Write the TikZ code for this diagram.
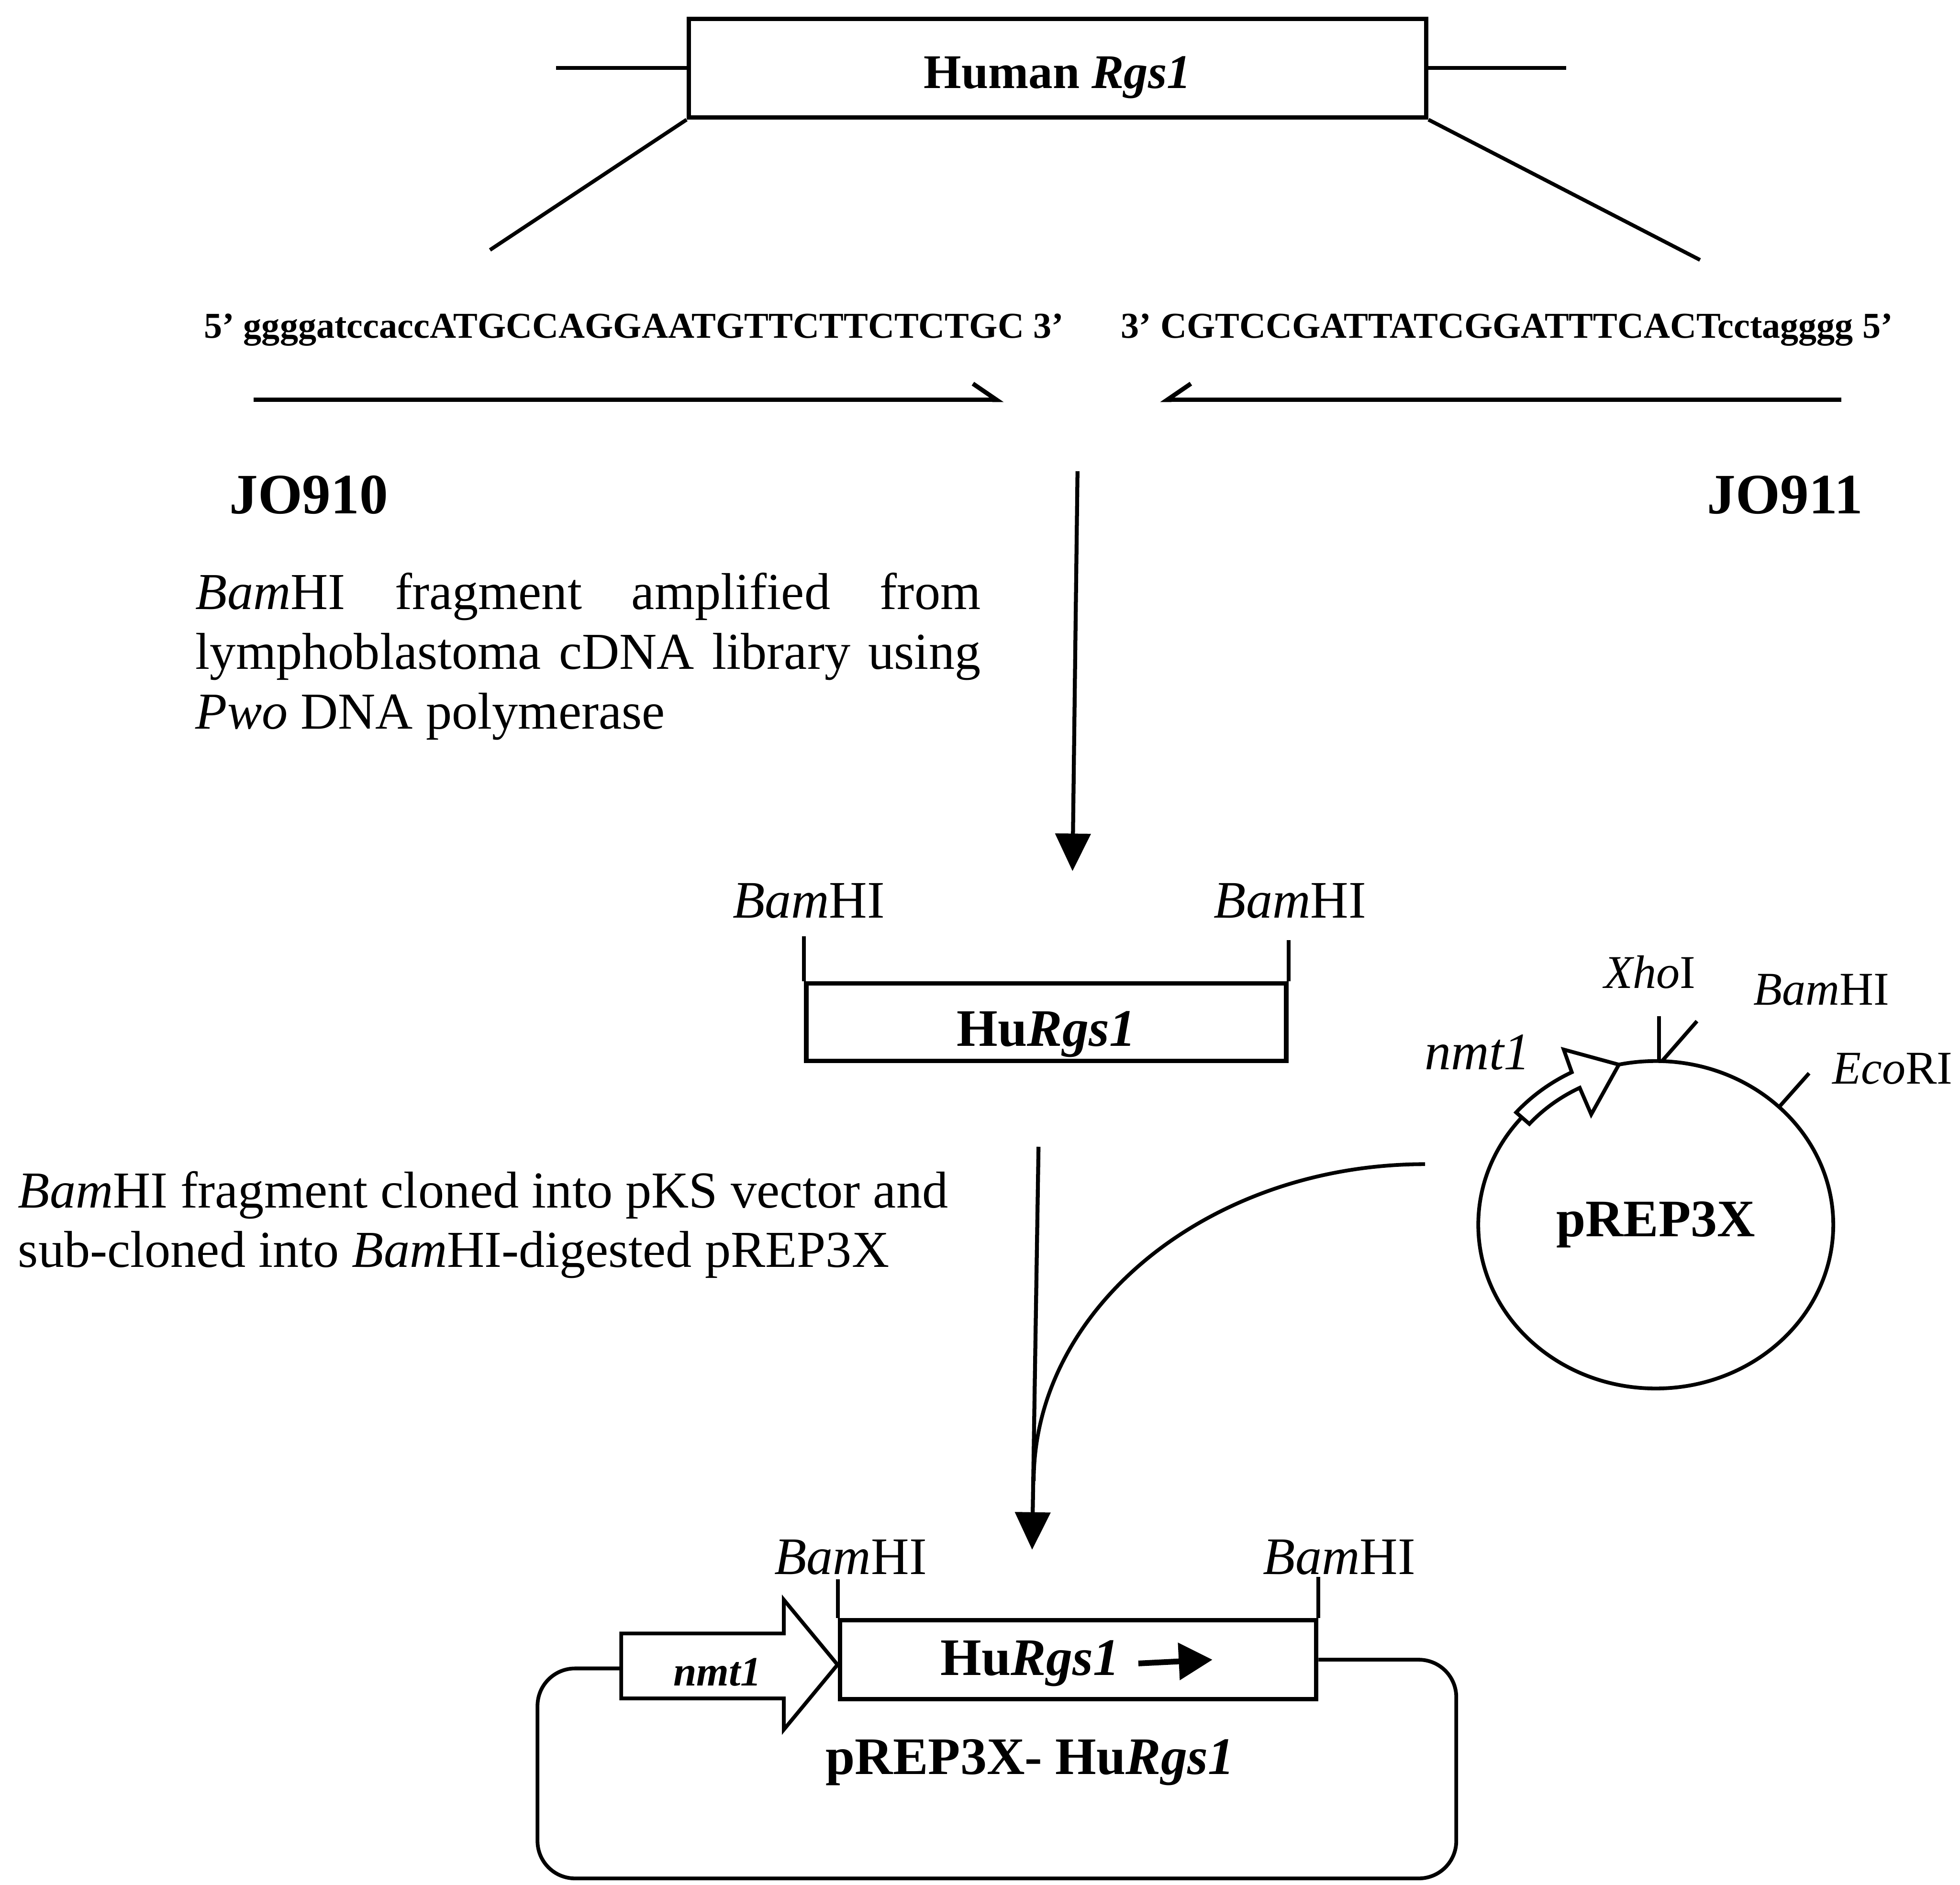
\documentclass[tikz,border=0pt]{standalone}
\usepackage{fontspec}
\setmainfont{Liberation Serif}
\usepackage{tikz}
\usetikzlibrary{arrows.meta,positioning,calc}
\newcommand{\fsz}[2]{\fontsize{#1}{#2}\selectfont}
\newcommand{\bamhi}{\textit{Bam}HI}
\newcommand{\rgs}{\textit{Rgs1}}

\begin{document}
\begin{tikzpicture}[line width=0.85pt,
  gene/.style={draw,line width=1pt,inner sep=0pt},
  site/.style={font=\fsz{12}{14}},
  tag/.style={font=\fsz{10.7}{12}},
  seq/.style={font=\fsz{8.3}{10}\bfseries},
  primer/.style={line width=1pt},
  flow/.style={line width=0.9pt,-{Triangle[length=0.3cm,width=0.28cm]}},
  note/.style={font=\fsz{11.8}{13.6},inner sep=0pt}]
  \useasboundingbox (0,0) rectangle (15.68,-15.08);

  % genomic locus
  \node[gene,minimum width=5.9cm,minimum height=0.79cm,text height=9.1pt,text depth=0pt,
        font=\fsz{11}{13}\bfseries] (hum) at (8.46,-0.545) {Human \rgs};
  \coordinate (hl) at (4.45,-0.545);
  \coordinate (hr) at (12.53,-0.545);
  \coordinate (zl) at (3.92,-2.00);
  \coordinate (zr) at (13.60,-2.08);
  \draw (hl) -- (hum.west);
  \draw (hum.east) -- (hr);
  \draw (hum.south west) -- (zl);
  \draw (hum.south east) -- (zr);

  % primers
  \node[seq] (fwd) at (5.07,-2.64) {5' ggggatccaccATGCCAGGAATGTTCTTCTCTGC 3'};
  \node[seq] (rev) at (12.055,-2.64) {3' CGTCCGATTATCGGATTTCACTcctagggg 5'};
  \coordinate (f1) at (2.03,-3.20);
  \coordinate (f2) at (8.03,-3.20);
  \coordinate (r1) at (14.73,-3.20);
  \coordinate (r2) at (9.28,-3.20);
  \draw[primer,-{Straight Barb[left,length=0.19cm,width=0.26cm]}] (f1) -- (f2);
  \draw[primer,-{Straight Barb[right,length=0.19cm,width=0.26cm]}] (r1) -- (r2);
  \node[font=\fsz{13}{15}\bfseries] (jo910) at (2.47,-3.96) {JO910};
  \node[font=\fsz{13}{15}\bfseries] (jo911) at (14.28,-3.96) {JO911};

  % PCR step
  \coordinate (s1) at (8.62,-3.77);
  \coordinate (e1) at (8.58,-6.97);
  \draw[flow] (s1) -- (e1);
  \node[note,text width=6.28cm,align=justify,anchor=north west] (pcr) at (1.55,-4.57)
    {\hyphenpenalty=10000 \bamhi{} fragment amplified from\linebreak
     lymphoblastoma cDNA library using\linebreak
     \textit{Pwo} DNA polymerase};

  \node[gene,minimum width=3.84cm,minimum height=0.62cm,text height=10.8pt,text depth=0pt,
        font=\fsz{12}{14}\bfseries] (hu1) at (8.37,-8.18) {Hu\rgs};
  \node[site] (b1l) at (6.47,-7.21) {\bamhi};
  \node[site] (b1r) at (10.32,-7.21) {\bamhi};
  \draw (hu1.north west) -- ++(0,0.36);
  \draw (hu1.north east) -- ++(0,0.33);

  % vector
  \node[font=\fsz{12}{14}\bfseries] (pl) at (13.246,-9.80) {pREP3X};
  \draw (pl.center) ellipse [x radius=1.42, y radius=1.31];
  \begin{scope}[shift={(pl.center)}]
    \draw[fill=white] (139:1.48 and 1.37) arc[start angle=139,end angle=117,x radius=1.48,y radius=1.37]
      -- (116:1.68 and 1.56) -- (102:1.42 and 1.31) -- (118:1.10 and 1.00)
      -- (117:1.34 and 1.23) arc[start angle=117,end angle=139,x radius=1.34,y radius=1.23] -- cycle;
    \draw (89:1.42 and 1.31) -- ++(0,0.36);
    \draw (88:1.42 and 1.31) -- ++(0.28,0.32);
    \draw (46:1.42 and 1.31) -- ++(0.24,0.27);
  \end{scope}
  \node[font=\fsz{12}{14}\itshape] (nmt) at (11.82,-8.42) {nmt1};
  \node[tag] (xho) at (13.20,-7.78) {\textit{Xho}I};
  \node[tag] (bam) at (14.57,-7.92) {\bamhi};
  \node[tag] (eco) at (15.14,-8.55) {\textit{Eco}RI};

  % cloning step
  \coordinate (s2) at (8.308,-9.176);
  \coordinate (e2) at (8.257,-12.40);
  \coordinate (cs) at (11.40,-9.315);
  \coordinate (ce) at (8.27,-11.85);
  \draw[flow] (s2) -- (e2);
  \draw (cs) .. controls +(-1.72,0) and +(0,1.39) .. (ce);
  \node[note,anchor=west,align=left] (clone) at (0.13,-9.80)
    {\bamhi{} fragment cloned into pKS vector and\\sub-cloned into \bamhi-digested pREP3X};

  % recombinant plasmid
  \draw[fill=white] (4.97,-13.07) -- (6.27,-13.07) -- (6.27,-12.80) -- (6.70,-13.32)
    -- (6.27,-13.84) -- (6.27,-13.59) -- (4.97,-13.59) -- cycle;
  \node[font=\fsz{9.5}{11}\bfseries\itshape] (prom) at (5.74,-13.38) {nmt1};
  \node[gene,minimum width=3.81cm,minimum height=0.63cm] (hu2) at (8.625,-13.28) {};
  \node[font=\fsz{12}{14}\bfseries] (hu2t) at (8.24,-13.31) {Hu\rgs};
  \coordinate[right=0.02cm of hu2t] (ga);
  \coordinate (gb) at (9.70,-13.28);
  \draw[line width=1.3pt,-{Triangle[length=0.27cm,width=0.29cm]}] (ga) -- (gb);
  \node[site] (b2l) at (6.805,-12.46) {\bamhi};
  \node[site] (b2r) at (10.715,-12.46) {\bamhi};
  \draw (hu2.north west) -- ++(0,0.31);
  \draw (hu2.north east) -- ++(0,0.33);
  \coordinate (pw) at (4.97,-13.35);
  \coordinate (lr) at (11.65,-13.28);
  \draw[rounded corners=0.3cm] (pw) -| (4.30,-15.03) -| (lr) -- (hu2.east);
  \node[font=\fsz{12}{14}\bfseries] (rec) at (8.24,-14.10) {pREP3X- Hu\rgs};
\end{tikzpicture}
\end{document}
